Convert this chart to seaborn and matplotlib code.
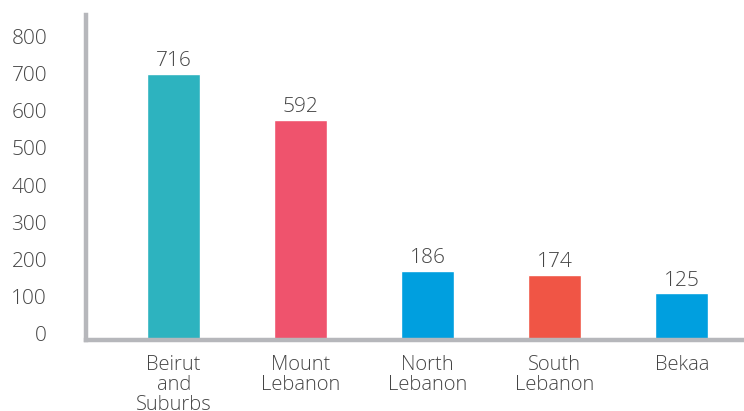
"""Bar chart: counts by Lebanese region."""

import matplotlib
import matplotlib.pyplot as plt
import matplotlib.transforms as mtransforms
import pandas as pd
import seaborn as sns

matplotlib.use("Agg")

regions = ["Beirut\nand\nSuburbs", "Mount\nLebanon", "North\nLebanon", "South\nLebanon", "Bekaa"]
counts = [716, 592, 186, 174, 125]
bar_colors = ["#2db3bf", "#ef536d", "#009fdf", "#f05545", "#009fdf"]
y_ticks = [0, 100, 200, 300, 400, 500, 600, 700, 800]

TEXT = "#454545"
SPINE = "#b6b7bb"

sns.set_style("white")
plt.rcParams["font.family"] = ["Open Sans", "DejaVu Sans"]
plt.rcParams["font.weight"] = "light"

df = pd.DataFrame({"region": regions, "count": counts})

fig = plt.figure(figsize=(7.44, 4.11), dpi=100)
ax = fig.add_axes([0.1156, 0.173, 0.8844, 0.79])

sns.barplot(
    data=df, x="region", y="count", hue="region",
    palette=bar_colors, width=0.42, legend=False, ax=ax, saturation=1,
)

for container in ax.containers:
    ax.bar_label(container, fontsize=15, color=TEXT, padding=2)

ax.set_ylim(0, 873)
ax.set_xlim(-0.69, 4.49)
ax.set_yticks(y_ticks)
ax.set_xlabel("")
ax.set_ylabel("")

for side in ("top", "right"):
    ax.spines[side].set_visible(False)
for side in ("left", "bottom"):
    ax.spines[side].set_color(SPINE)
    ax.spines[side].set_linewidth(3.2)

ax.tick_params(axis="y", length=0, pad=28, labelsize=15, labelcolor=TEXT)
ax.tick_params(axis="x", length=0, pad=11, labelsize=14.5, labelcolor=TEXT)

# y labels sit a few pixels above their gridline in the original
shift = mtransforms.ScaledTranslation(0, 6 / 100, fig.dpi_scale_trans)
for lbl in ax.get_yticklabels():
    lbl.set_transform(lbl.get_transform() + shift)
for lbl in ax.get_xticklabels():
    lbl.set_linespacing(1.0)

fig.savefig("out.png", dpi=100, facecolor="white")
plt.close(fig)
